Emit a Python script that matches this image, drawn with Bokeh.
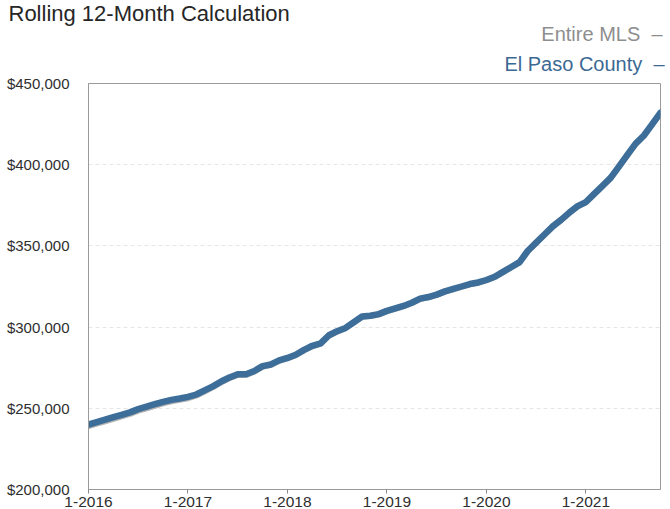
from bokeh.plotting import figure
from bokeh.models import FixedTicker, NumeralTickFormatter, Range1d, Title
from bokeh.embed import file_html
from bokeh.resources import INLINE

# Rolling 12-month median price, monthly from 1-2016 through 10-2021 (in $)
month_count = 70
el_paso = [
    240000, 241500, 243000, 244500, 246000, 247500, 249500, 251000, 252500, 254000,
    255200, 256000, 257000, 258500, 261000, 263500, 266500, 269000, 271000, 271000,
    273000, 276000, 277000, 279500, 281000, 283000, 286000, 288500, 290000, 295000,
    297500, 299500, 303000, 306500, 307000, 308000, 310000, 311500, 313000, 315000,
    317500, 318500, 320000, 322000, 323500, 325000, 326500, 327500, 329000, 331000,
    334000, 337000, 340000, 347000, 352000, 357000, 362000, 366000, 370500, 374500,
    377000, 382000, 387000, 392000, 399000, 406000, 413000, 418000, 425000, 432000,
]
entire_mls = [
    239000, 240500, 242000, 243500, 245000, 246500, 248500, 250000, 251500, 253000,
    254300, 255200, 256200, 257800, 260300, 263000, 266000, 268500, 270500, 270600,
    272600, 275600, 276700, 279200, 280700, 282700, 285700, 288200, 289800, 294700,
    297300, 299300, 302800, 306300, 306800, 307800, 309800, 311300, 312800, 314800,
    317300, 318300, 319800, 321800, 323300, 324800, 326300, 327300, 328800, 330800,
    333800, 336800, 339800, 346800, 351800, 356800, 361800, 365800, 370300, 374300,
    376800, 381800, 386800, 391800, 398800, 405800, 412800, 417800, 424800, 431800,
]
year_ticks = [0, 12, 24, 36, 48, 60]
year_labels = ["1-2016", "1-2017", "1-2018", "1-2019", "1-2020", "1-2021"]
price_ticks = [200000, 250000, 300000, 350000, 400000, 450000]

x = list(range(month_count))

FONT = "Liberation Sans"
BLUE = "#3d6e9a"
LEGEND_BLUE = "#3b6993"
LEGEND_GRAY = "#8e8e8e"

p = figure(width=670, height=509, output_backend="svg", toolbar_location=None,
           x_range=Range1d(0, month_count - 1), y_range=Range1d(200000, 450000),
           min_border_left=88, min_border_right=10, min_border_top=0,
           min_border_bottom=20)
p.background_fill_color = "white"
p.border_fill_color = "white"
p.outline_line_color = "#9a9a9a"
p.outline_line_width = 1

# axes
p.xaxis.ticker = FixedTicker(ticks=year_ticks)
p.xaxis.major_label_overrides = {t: l for t, l in zip(year_ticks, year_labels)}
p.xaxis.major_label_text_font = FONT
p.xaxis.major_label_text_font_size = "15.5px"
p.xaxis.major_label_text_color = "#2e2e2e"
p.xaxis.major_tick_in = 0
p.xaxis.major_tick_out = 4
p.xaxis.major_tick_line_color = "#8a8a8a"
p.xaxis.minor_tick_line_color = None
p.xaxis.axis_line_color = "#9a9a9a"
p.xaxis.major_label_standoff = 3

p.yaxis.ticker = FixedTicker(ticks=price_ticks)
p.yaxis.formatter = NumeralTickFormatter(format="$0,0")
p.yaxis.major_label_text_font = FONT
p.yaxis.major_label_text_font_size = "15px"
p.yaxis.major_label_text_color = "#2e2e2e"
p.yaxis.major_tick_line_color = None
p.yaxis.minor_tick_line_color = None
p.yaxis.axis_line_color = "#9a9a9a"
p.yaxis.major_label_standoff = 13

p.xgrid.grid_line_color = None
p.ygrid.grid_line_color = "#e6e6e6"
p.ygrid.grid_line_dash = "4 3"

# series
p.line(x, entire_mls, line_color="#b4b4b4", line_width=6, line_join="round",
       line_cap="round")
p.line(x, el_paso, line_color=BLUE, line_width=6.5, line_join="round",
       line_cap="round")

# header: the first title added sits closest to the frame
p.title = None
p.add_layout(Title(text="El Paso County\u00a0\u00a0–", align="right",
                   text_font=FONT, text_font_size="20px",
                   text_font_style="normal", text_color=LEGEND_BLUE,
                   standoff=18, offset=-4), "above")
p.add_layout(Title(text="Entire MLS\u00a0\u00a0–", align="right",
                   text_font=FONT, text_font_size="20px",
                   text_font_style="normal", text_color=LEGEND_GRAY,
                   standoff=-6, offset=-2), "above")
p.add_layout(Title(text="Rolling 12-Month Calculation", align="left",
                   text_font=FONT, text_font_size="22px",
                   text_font_style="normal", text_color="#262626",
                   standoff=-4, offset=-80), "above")

open("out.html", "w").write(file_html(p, INLINE))
